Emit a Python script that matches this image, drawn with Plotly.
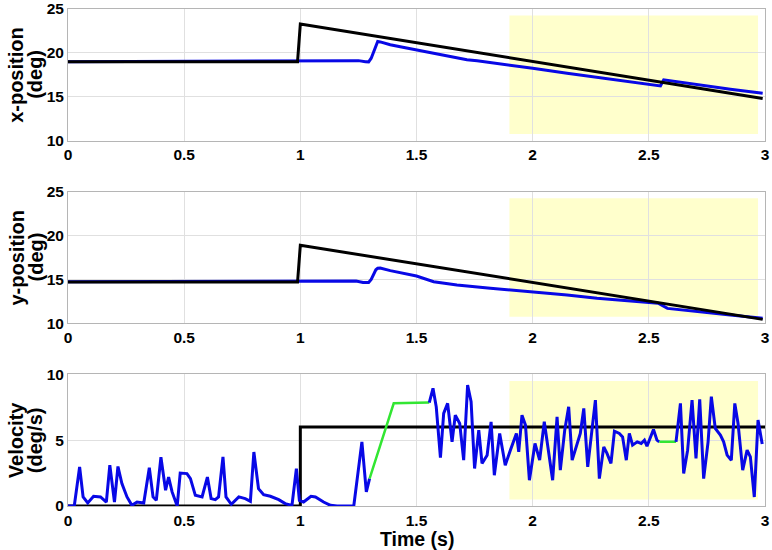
import plotly.graph_objects as go

# ---------------- data ----------------
# reference (target) trajectory
ref_t = [0.0, 0.988, 1.0, 2.99]
ref_x = [19.0, 19.0, 23.3, 14.8]
ref_y = [14.7, 14.7, 18.9, 10.45]

# measured eye position, x
eye_tx = [0.0, 0.33, 0.8, 1.25, 1.28, 1.294, 1.305, 1.316, 1.325, 1.333, 1.344, 1.387,
          1.43, 1.5, 1.632, 1.717, 1.761, 1.904, 2.0, 2.148, 2.277, 2.435, 2.55, 2.564,
          2.708, 2.851, 2.99]
eye_x = [19.0, 19.05, 19.1, 19.12, 19.0, 18.98, 19.4, 20.2, 20.9, 21.3, 21.25, 20.93,
         20.7, 20.35, 19.67, 19.21, 19.1, 18.64, 18.26, 17.69, 17.24, 16.62, 16.24, 16.93,
         16.36, 15.87, 15.41]

# measured eye position, y
eye_ty = [0.0, 0.5, 1.0, 1.24, 1.27, 1.294, 1.305, 1.316, 1.325, 1.333, 1.344, 1.387,
          1.473, 1.5, 1.574, 1.674, 1.818, 2.0, 2.148, 2.277, 2.378, 2.5, 2.54, 2.58,
          2.708, 2.851, 2.99]
eye_y = [14.75, 14.8, 14.82, 14.82, 14.65, 14.65, 15.0, 15.7, 16.1, 16.27, 16.3, 16.0,
         15.5, 15.39, 14.74, 14.37, 13.99, 13.6, 13.23, 12.85, 12.66, 12.35, 12.28, 11.7,
         11.32, 10.95, 10.57]

# target velocity
ref_vt = [0.0, 1.0, 1.0, 3.0]
ref_v = [0.0, 0.0, 6.0, 6.0]

# eye velocity, segment 1 (fixation)
vel_t1 = [0.0, 0.027, 0.05, 0.065, 0.085, 0.11, 0.14, 0.165, 0.18, 0.2, 0.215, 0.232,
          0.254, 0.275, 0.297, 0.326, 0.35, 0.366, 0.38, 0.40, 0.42, 0.433, 0.448, 0.47,
          0.483, 0.512, 0.527, 0.548, 0.577, 0.60, 0.616, 0.634, 0.648, 0.667, 0.68, 0.703,
          0.735, 0.763, 0.785, 0.80, 0.82, 0.842, 0.871, 0.907, 0.935, 0.964, 0.983, 0.996,
          1.014, 1.046, 1.065, 1.10, 1.13, 1.158, 1.23, 1.265, 1.284, 1.298]
vel_v1 = [0.0, 0.0, 2.97, 0.69, 0.23, 0.74, 0.69, 0.3, 3.1, 0.3, 3.0, 1.7,
          0.69, 0.05, 0.3, 0.23, 2.9, 0.69, 0.43, 3.7, 1.2, 2.2, 1.07, 0.0,
          2.5, 2.46, 2.08, 0.81, 0.69, 2.2, 0.56, 0.48, 0.69, 3.73, 0.69, 0.13,
          0.69, 0.56, 0.36, 4.1, 1.32, 0.86, 0.74, 0.48, 0.18, 0.05, 2.84, 0.43,
          0.3, 0.74, 0.69, 0.3, 0.05, 0.0, 0.0, 4.87, 1.07, 2.08]

# saccade (removed) segment 1
sac_t1 = [1.298, 1.402, 1.555]
sac_v1 = [2.08, 7.8, 7.85]

# eye velocity, segment 2 (pursuit)
vel_t2 = [1.555, 1.571, 1.585, 1.603, 1.617, 1.634, 1.653, 1.667, 1.686, 1.703, 1.72,
          1.735, 1.75, 1.768, 1.782, 1.804, 1.821, 1.835, 1.858, 1.882, 1.904, 1.93, 1.94,
          1.954, 1.969, 1.986, 2.01, 2.03, 2.05, 2.086, 2.105, 2.119, 2.138, 2.155, 2.17,
          2.191, 2.205, 2.22, 2.237, 2.256, 2.27, 2.287, 2.306, 2.32, 2.337, 2.352, 2.373,
          2.387, 2.403, 2.416, 2.43, 2.45, 2.467, 2.481, 2.492, 2.52, 2.535, 2.545]
vel_v2 = [7.85, 8.93, 7.53, 3.68, 7.03, 7.79, 4.87, 6.9, 6.27, 3.48, 9.19,
          7.92, 2.85, 5.76, 3.23, 3.86, 6.39, 2.34, 5.51, 3.1, 4.24, 5.51, 4.11,
          6.9, 6.14, 1.96, 4.75, 3.48, 6.4, 1.96, 6.77, 2.72, 5.76, 7.53, 3.48,
          4.75, 5.51, 7.41, 2.97, 5.89, 8.04, 2.08, 4.49, 3.99, 3.23, 5.68, 5.51,
          5.25, 3.48, 5.51, 4.62, 4.87, 4.75, 5.0, 4.54, 5.81, 5.0, 4.87]

# removed segment 2
sac_t2 = [2.545, 2.617]
sac_v2 = [4.87, 4.87]

# eye velocity, segment 3
vel_t3 = [2.617, 2.636, 2.65, 2.667, 2.686, 2.703, 2.719, 2.736, 2.755, 2.769, 2.786,
          2.808, 2.822, 2.837, 2.855, 2.87, 2.884, 2.904, 2.923, 2.937, 2.954, 2.97, 2.988]
vel_v3 = [4.87, 7.79, 2.47, 4.24, 8.04, 3.61, 8.1, 2.08, 4.87, 8.3, 5.89,
          5.38, 4.87, 3.86, 3.48, 7.79, 6.27, 2.72, 4.24, 3.73, 0.68, 6.52, 4.7]

# analysis window
window_start = 1.9
window_end = 2.97

x_ticks = [0, 0.5, 1, 1.5, 2, 2.5, 3]
pos_ticks = [10, 15, 20, 25]
vel_ticks = [0, 5, 10]

# ---------------- figure ----------------
BLUE = "rgb(8,8,230)"
GREEN = "rgb(50,230,50)"
BLACK = "black"
FONT = "Liberation Sans"

fig = go.Figure()

def line(x, y, color, width, xa, ya):
    fig.add_trace(go.Scatter(x=x, y=y, mode="lines", line=dict(color=color, width=width),
                             xaxis=xa, yaxis=ya, showlegend=False, hoverinfo="skip"))

# panel 1
line(eye_tx, eye_x, BLUE, 3, "x", "y")
line(ref_t, ref_x, BLACK, 3, "x", "y")
# panel 2
line(eye_ty, eye_y, BLUE, 3, "x2", "y2")
line(ref_t, ref_y, BLACK, 3, "x2", "y2")
# panel 3
line(ref_vt, ref_v, BLACK, 3, "x3", "y3")
line(vel_t1, vel_v1, BLUE, 3, "x3", "y3")
line(sac_t1, sac_v1, GREEN, 2.5, "x3", "y3")
line(vel_t2, vel_v2, BLUE, 3, "x3", "y3")
line(sac_t2, sac_v2, GREEN, 2.5, "x3", "y3")
line(vel_t3, vel_v3, BLUE, 3, "x3", "y3")

# highlight windows
pos_range = [10, 25]
vel_range = [0, 10]
for xr, yr, rng in [("x", "y", pos_range), ("x2", "y2", pos_range), ("x3", "y3", vel_range)]:
    pad = 0.05 * (rng[1] - rng[0])
    fig.add_shape(type="rect", xref=xr, yref=yr, x0=window_start, x1=window_end,
                  y0=rng[0] + pad, y1=rng[1] - pad, fillcolor="#FFFFCC",
                  line=dict(width=0), layer="below")

tickfont = dict(family=FONT, size=15.5, color="black", weight="bold")
axis_common = dict(showgrid=True, gridcolor="#e0e0e0", gridwidth=1, zeroline=False,
                   showline=True, linecolor="#b5b5b5", linewidth=1, mirror=True,
                   ticks="", tickfont=tickfont, automargin=False,
                   ticklabeloverflow="allow")

domains = {"": [0.735, 1.0], "2": [0.3676, 0.6324], "3": [0.0, 0.265]}
layout = dict(
    width=772, height=550,
    margin=dict(l=68, r=7, t=9, b=44),
    plot_bgcolor="white", paper_bgcolor="white",
    showlegend=False,
)
for k, dom in domains.items():
    layout["xaxis" + k] = dict(range=[0, 3], tickvals=x_ticks,
                               ticktext=[f"{v:g}" for v in x_ticks],
                               anchor="y" + k, domain=[0, 1], **axis_common)
    if k:
        layout["xaxis" + k]["matches"] = "x"
    yrng = vel_range if k == "3" else pos_range
    yt = vel_ticks if k == "3" else pos_ticks
    layout["yaxis" + k] = dict(range=yrng, tickvals=yt, anchor="x" + k, domain=dom,
                               **axis_common)
fig.update_layout(**layout)

# y titles (two lines each)
titles = [("x-position", "(deg)", 0.8675), ("y-position", "(deg)", 0.5),
          ("Velocity", "(deg/s)", 0.1325)]
title_font = dict(family=FONT, size=20, color="black", weight="bold")
for l1, l2, yc in titles:
    fig.add_annotation(text=l1, xref="paper", yref="paper", x=(16 - 68) / 697, y=yc,
                       textangle=-90, showarrow=False, font=title_font,
                       xanchor="center", yanchor="middle")
    fig.add_annotation(text=l2, xref="paper", yref="paper", x=(35 - 68) / 697, y=yc,
                       textangle=-90, showarrow=False, font=title_font,
                       xanchor="center", yanchor="middle")

fig.add_annotation(text="Time (s)", xref="paper", yref="paper", x=0.5007,
                   y=(506 - 539) / 497, showarrow=False,
                   font=dict(family=FONT, size=19.5, color="black", weight="bold"),
                   xanchor="center", yanchor="middle")

fig.write_html("out.html", config={"displayModeBar": False},
               post_script="document.body.style.margin='0';document.body.style.overflow='hidden';")
